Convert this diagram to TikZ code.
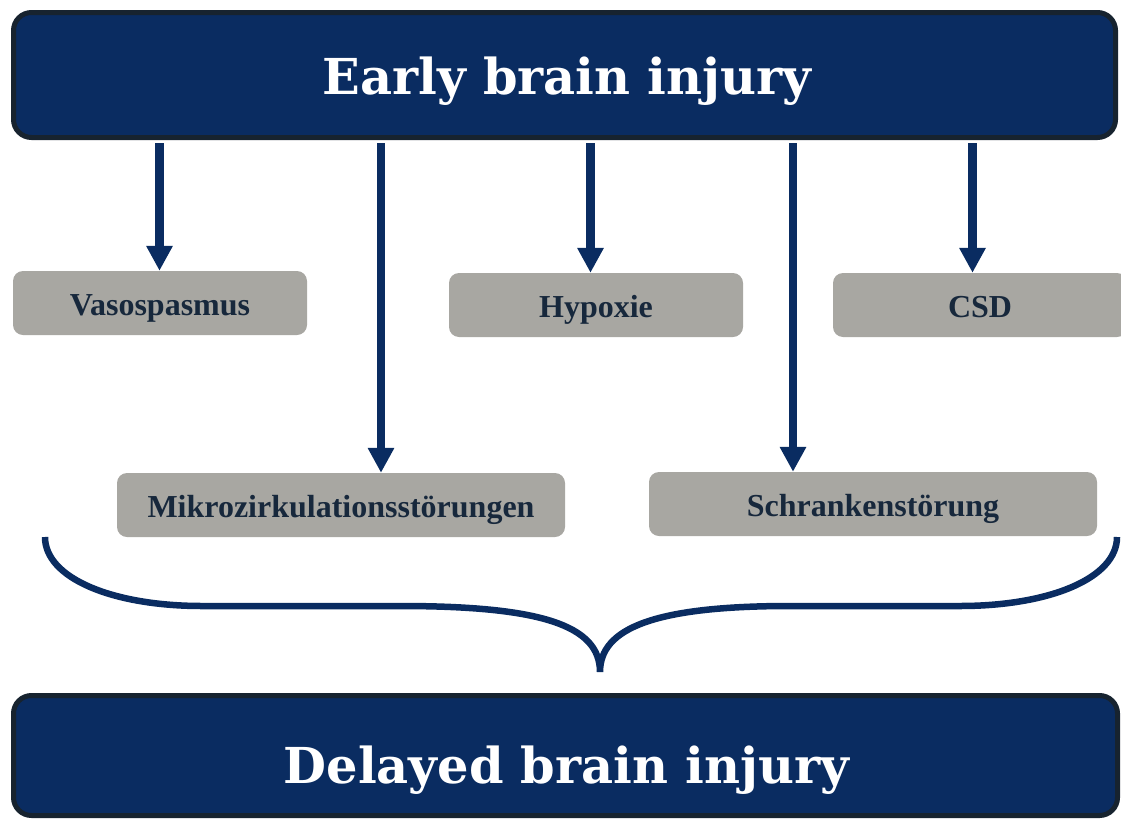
\documentclass[tikz,border=0pt]{standalone}
\usepackage{fontspec}
\setmainfont{Liberation Serif}
\newfontfamily\titlefont{DejaVu Serif}
\usetikzlibrary{arrows.meta}
\definecolor{navy}{HTML}{0A2C61}
\definecolor{boxline}{HTML}{17232F}
\definecolor{causegray}{HTML}{A8A7A2}
\definecolor{labelink}{HTML}{17283C}
\begin{document}
\begin{tikzpicture}[x=1pt,y=-1pt,
  bigbox/.style={draw=boxline, line width=5pt, fill=navy, rounded corners=18pt, inner sep=0pt},
  cause/.style={fill=causegray, rounded corners=10pt, minimum height=64pt, inner sep=0pt,
    text=labelink, font=\bfseries\fontsize{32}{32}\selectfont, text height=24pt, text depth=0pt},
  title/.style={text=white, font=\titlefont\bfseries\fontsize{49.5}{49.5}\selectfont, inner sep=0pt, anchor=base},
  arr/.style={draw=navy, line width=8.5pt, shorten <=3pt, -{Triangle[width=25pt,length=25pt]}},
  brace/.style={draw=navy, line width=6.5pt}
]
\useasboundingbox (0,0) rectangle (1121,819);

% the two stages
\node[bigbox, minimum width=1102pt, minimum height=125pt] (ebi) at (564.5,75) {};
\node[bigbox, minimum width=1104pt, minimum height=120pt] (dbi) at (565.5,755.5) {};
\node[title] (ebiT) at (567,94) {Early brain injury};
\node[title] (dbiT) at (566.5,783) {Delayed brain injury};

% mechanisms
\node[cause, minimum width=294pt] (vaso) at (160,303) {Vasospasmus};
\node[cause, minimum width=294pt] (hyp) at (596,305) {Hypoxie};
\node[cause, minimum width=294pt] (csd) at (980,305) {CSD};
\node[cause, minimum width=448pt] (mikro) at (341,505) {Mikrozirkulationsstörungen};
\node[cause, minimum width=448pt] (schr) at (873,504) {Schrankenstörung};

% arrow columns
\coordinate (a1) at (159.5,0);
\coordinate (a2) at (381,0);
\coordinate (a3) at (590.5,0);
\coordinate (a4) at (793,0);
\coordinate (a5) at (972.5,0);
\draw[arr] (ebi.south -| a1) -- (vaso.north -| a1);
\draw[arr] (ebi.south -| a2) -- (mikro.north -| a2);
\draw[arr] (ebi.south -| a3) -- (hyp.north -| a3);
\draw[arr] (ebi.south -| a4) -- (schr.north -| a4);
\draw[arr] (ebi.south -| a5) -- (csd.north -| a5);

% brace gathering the mechanisms
\coordinate (bl) at (45,537);
\coordinate (btip) at (600,672);
\coordinate (br) at (1117,537);
\draw[brace] (bl) .. controls (45,578) and (112,606) .. (202,606) -- (400,606)
  .. controls (540,606) and (600,625) .. (btip)
  .. controls (600,628) and (655,606) .. (790,606) -- (960,606)
  .. controls (1050,606) and (1117,578) .. (br);
\end{tikzpicture}
\end{document}
